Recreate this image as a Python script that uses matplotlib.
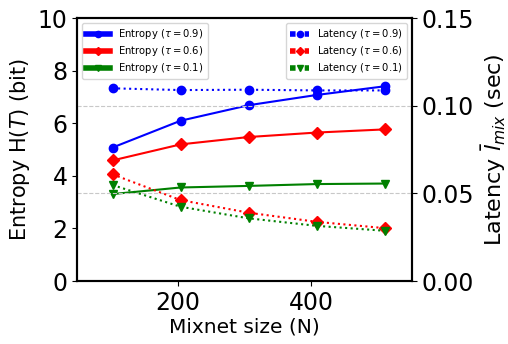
import matplotlib
matplotlib.use("Agg")
import matplotlib.pyplot as plt

sizes = [102, 204, 306, 408, 510]
entropy_09 = [5.08, 6.10, 6.69, 7.08, 7.41]
entropy_06 = [4.59, 5.20, 5.48, 5.65, 5.77]
entropy_01 = [3.31, 3.56, 3.62, 3.69, 3.71]
latency_09 = [0.110, 0.1090, 0.1092, 0.1088, 0.1088]
latency_06 = [0.0609, 0.0462, 0.0390, 0.0338, 0.0302]
latency_01 = [0.0548, 0.0424, 0.0358, 0.0315, 0.0287]
taus = ["0.9", "0.6", "0.1"]

fig = plt.figure(figsize=(5.08, 3.44), dpi=100)
ax = fig.add_axes([0.152, 0.183, 0.659, 0.764])
ax2 = ax.twinx()

colors = ["blue", "red", "green"]
markers = ["o", "D", "v"]
ent = [entropy_09, entropy_06, entropy_01]
lat = [latency_09, latency_06, latency_01]

for e, c, m, t in zip(ent, colors, markers, taus):
    ax.plot(sizes, e, color=c, marker=m, markersize=6, linewidth=1.5,
            label=r"Entropy ($\tau = %s$)" % t)
for l, c, m, t in zip(lat, colors, markers, taus):
    ax2.plot(sizes, l, color=c, marker=m, markersize=6, linewidth=1.5,
             linestyle=":", label=r"Latency ($\tau = %s$)" % t)

ax.set_xlim(49, 551)
ax.set_ylim(0, 10)
ax2.set_ylim(0, 0.15)
ax.set_xticks([200, 400])
ax.set_yticks([0, 2, 4, 6, 8, 10])
ax2.set_yticks([0, 0.05, 0.10, 0.15])
ax2.set_yticklabels(["0.00", "0.05", "0.10", "0.15"])
ax2.grid(axis="y", linestyle="--", color="#c8c8c8", linewidth=0.8)
ax.tick_params(labelsize=17)
ax2.tick_params(labelsize=17)
ax.set_xlabel("Mixnet size (N)", fontsize=14.5, labelpad=2)
ax.set_ylabel(r"Entropy H($T$) (bit)", fontsize=15)
ax2.set_ylabel(r"Latency $\bar{l}_{mix}$ (sec)", fontsize=16)
for s in ax.spines.values():
    s.set_linewidth(1.5)
for s in ax2.spines.values():
    s.set_linewidth(1.5)

leg1 = ax.legend(loc="upper left", fontsize=7.2, handlelength=2.4,
                 markerscale=0.75, labelspacing=0.3)
for ln in leg1.get_lines():
    ln.set_linewidth(4)
leg2 = ax2.legend(loc="upper right", fontsize=7.2, handlelength=1.9,
                  markerscale=0.75, labelspacing=0.3)
for ln in leg2.get_lines():
    ln.set_linewidth(4)

fig.savefig("out.png", dpi=100)
